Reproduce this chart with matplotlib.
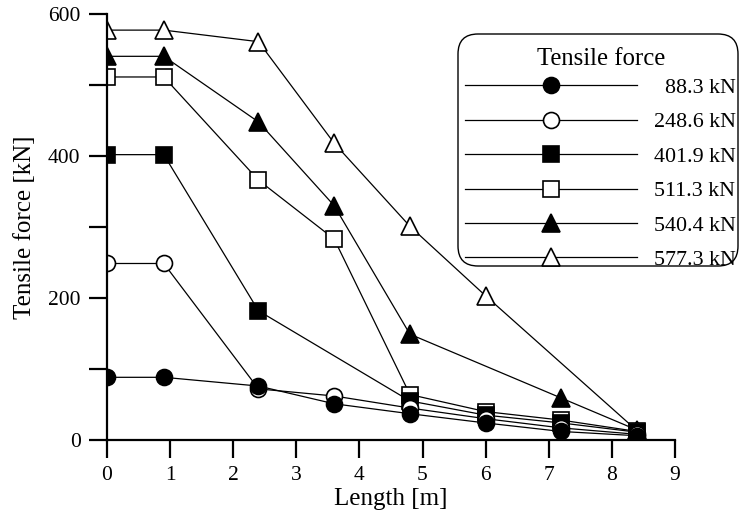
import matplotlib
matplotlib.use("Agg")
import matplotlib.pyplot as plt
from matplotlib.patches import FancyBboxPatch
from matplotlib.transforms import IdentityTransform

plt.rcParams['font.family'] = ['Liberation Serif', 'DejaVu Serif']

# 각 인장력 시리즈 (x: 길이 [m], y: 인장력 [kN])
x_883 = [0, 0.9, 2.4, 3.6, 4.8, 6.0, 7.2, 8.4]
y_883 = [88.3, 88.3, 76, 51, 37, 24, 12, 6]
x_2486 = [0, 0.9, 2.4, 3.6, 4.8, 6.0, 7.2, 8.4]
y_2486 = [248.6, 248.6, 72, 62, 45, 30, 17, 8]
x_4019 = [0, 0.9, 2.4, 4.8, 6.0, 7.2, 8.4]
y_4019 = [401.9, 401.9, 182, 55, 35, 24, 11]
x_5113 = [0, 0.9, 2.4, 3.6, 4.8, 6.0, 7.2, 8.4]
y_5113 = [511.3, 511.3, 366, 283, 64, 40, 28, 12]
x_5404 = [0, 0.9, 2.4, 3.6, 4.8, 7.2, 8.4]
y_5404 = [540.4, 540.4, 448, 330, 149, 59, 14]
x_5773 = [0, 0.9, 2.4, 3.6, 4.8, 6.0, 8.4]
y_5773 = [577.3, 577.3, 561, 418, 301, 203, 13]

# 범례 라벨 (figure space 로 오른쪽 정렬 흉내)
labels = ["\u200788.3 kN", "248.6 kN", "401.9 kN", "511.3 kN", "540.4 kN", "577.3 kN"]
xs = [x_883, x_2486, x_4019, x_5113, x_5404, x_5773]
ys = [y_883, y_2486, y_4019, y_5113, y_5404, y_5773]
markers = ['o', 'o', 's', 's', '^', '^']
faces = ['black', 'white', 'black', 'white', 'black', 'white']
msizes = [11.5, 11.5, 11.5, 11.5, 12.5, 12.5]

fig = plt.figure(figsize=(7.45, 5.23), dpi=100)
ax = fig.add_axes([107 / 745, 83 / 523, 568 / 745, 426 / 523])

# 큰 값부터 그려서 작은 값 마커가 위에 오도록
handles = [None] * 6
for i in reversed(range(6)):
    h, = ax.plot(xs[i], ys[i], color='black', lw=0.9, marker=markers[i],
                 markersize=msizes[i], markerfacecolor=faces[i],
                 markeredgecolor='black', markeredgewidth=1.2, label=labels[i])
    handles[i] = h

ax.set_xlim(0, 9)
ax.set_ylim(0, 600)
ax.set_xticks(range(10))
ax.set_yticks([0, 200, 400, 600])
ax.set_yticks([100, 300, 500], minor=True)
for s in ['top', 'right']:
    ax.spines[s].set_visible(False)
for s in ['left', 'bottom']:
    ax.spines[s].set_linewidth(1.6)
ax.tick_params(which='both', direction='out', length=13, width=1.6,
               labelsize=15.5, pad=6)
ax.set_xlabel("Length [m]", fontsize=18, labelpad=2)
ax.set_ylabel("Tensile force [kN]", fontsize=18, labelpad=9)

# 범례 테두리 (둥근 사각형)
box = FancyBboxPatch((458, 523 - 266), 280, 232,
                     boxstyle="round,pad=0,rounding_size=20",
                     transform=IdentityTransform(), facecolor='white',
                     edgecolor='black', lw=1.0, zorder=5)
fig.patches.append(box)

leg = fig.legend(handles=handles, loc='upper left',
                 bbox_to_anchor=(465 / 745, 1 - 48 / 523),
                 bbox_transform=fig.transFigure, frameon=False,
                 title="Tensile force", fontsize=15.8, title_fontsize=17.8,
                 handlelength=7.85, handletextpad=0.78, labelspacing=0.64,
                 borderpad=0, borderaxespad=0, numpoints=1)
leg._legend_box.sep = 5.5  # 제목과 항목 사이 간격
leg.set_zorder(6)

fig.savefig("out.png", dpi=100)
